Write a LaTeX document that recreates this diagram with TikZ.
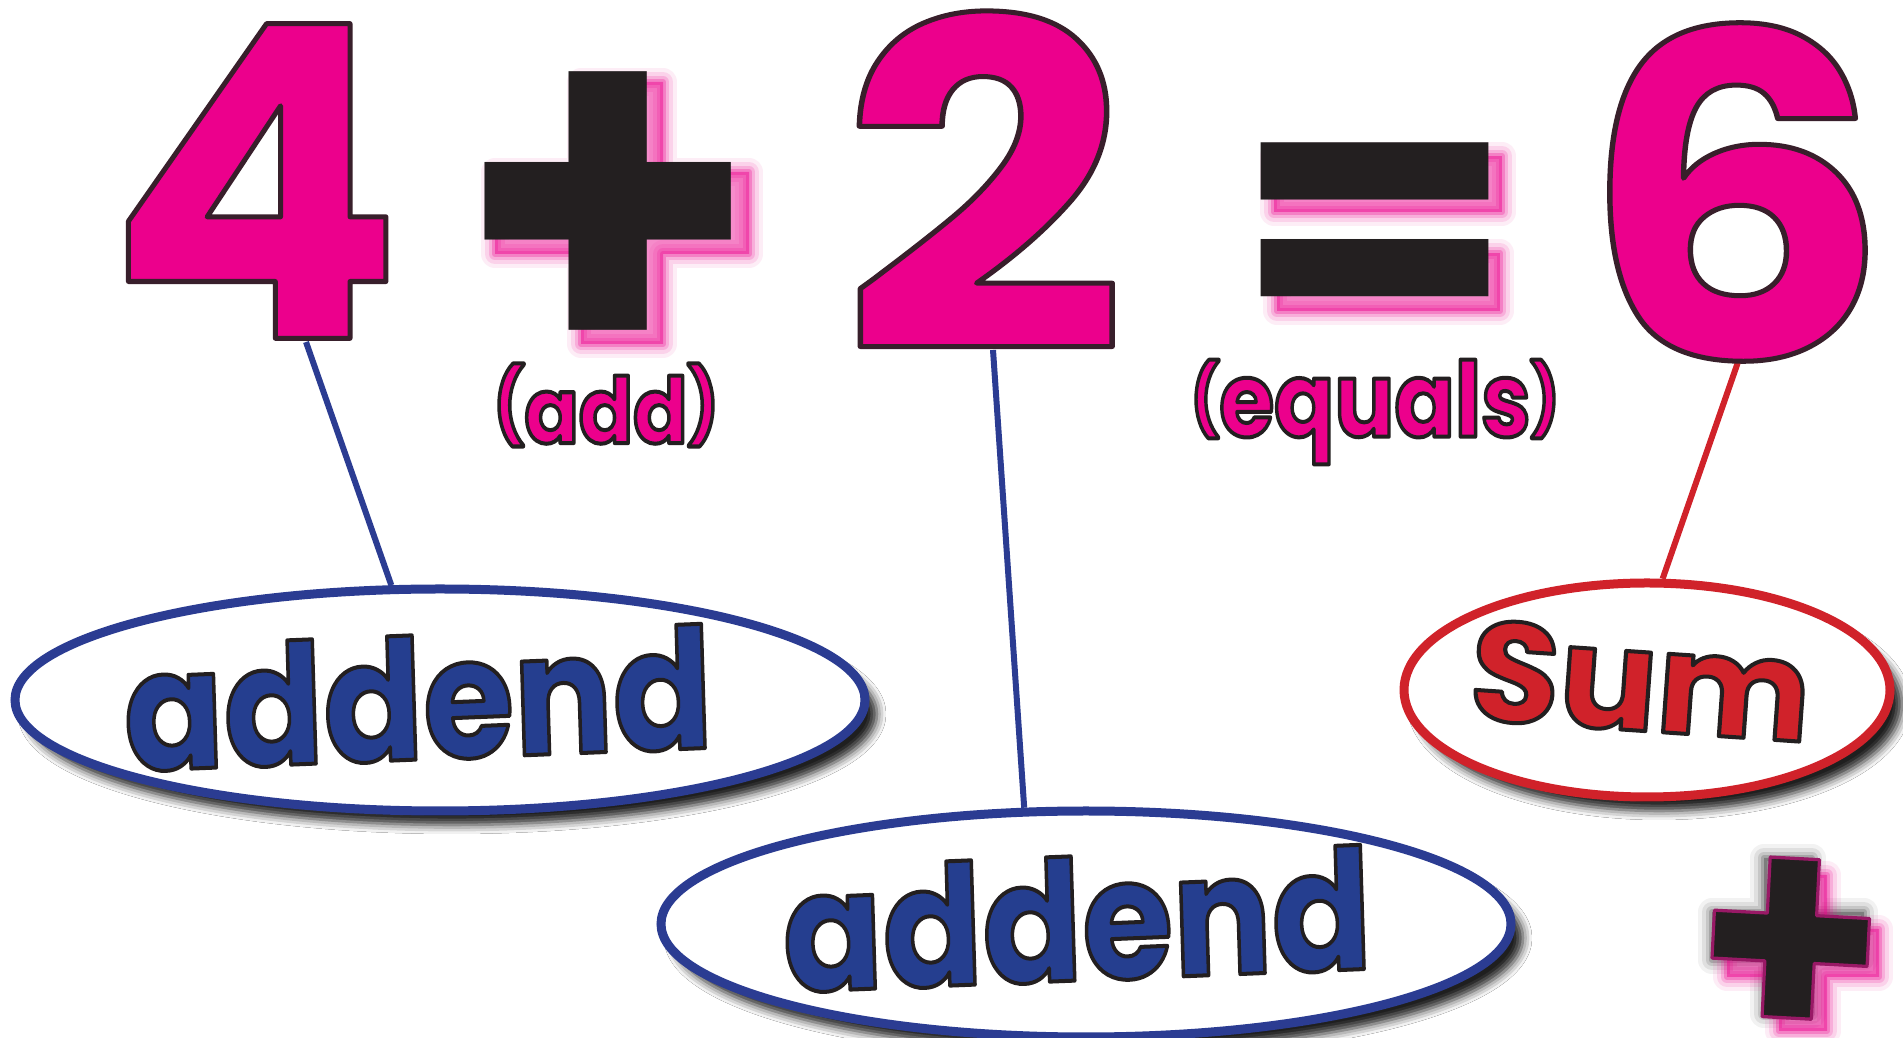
\documentclass[tikz,border=0pt]{standalone}
\usepackage{fontspec}
\setmainfont{Poppins}
\usetikzlibrary{shapes.geometric,shadows.blur}
\definecolor{pinkc}{HTML}{EC008C}
\definecolor{blk}{HTML}{231F20}
\definecolor{bluec}{HTML}{253E8F}
\definecolor{bluel}{HTML}{2B3C92}
\definecolor{redc}{HTML}{D0222A}
\makeatletter
\newcommand\outl[2]{\pgfsys@invoke{2 Tr #1 w #2 RG 1 j}}
\newcommand\outoff{\pgfsys@invoke{0 Tr}}
\makeatother
\newcommand\blkrgb{0.137 0.122 0.125}
\newcommand\digrgb{0.22 0.12 0.17}
\newcommand\myparl[2]{{\fontsize{#1}{#1}\selectfont\raisebox{#2}{(}}}
\newcommand\myparr[2]{{\fontsize{#1}{#1}\selectfont\raisebox{#2}{)}}}
% plus-shaped outline: centre x, centre y, half width, half height, half arm
\newcommand\pluspath[5]{(#1-#5,#2+#4) -- (#1+#5,#2+#4) -- (#1+#5,#2+#5) -- (#1+#3,#2+#5)
  -- (#1+#3,#2-#5) -- (#1+#5,#2-#5) -- (#1+#5,#2-#4) -- (#1-#5,#2-#4) -- (#1-#5,#2-#5)
  -- (#1-#3,#2-#5) -- (#1-#3,#2+#5) -- (#1-#5,#2+#5) -- cycle}
\pgfdeclarelayer{bg}
\pgfsetlayers{bg,main}
\tikzset{
  bubble/.style={ellipse, draw=#1, line width=9pt, fill=white, inner sep=0pt,
    blur shadow={shadow xshift=12pt, shadow yshift=-14pt, shadow blur radius=9pt, shadow opacity=88}},
  conn/.style={draw=#1, line width=6pt},
  lbl/.style={inner sep=0pt, outer sep=0pt, font=\bfseries\fontsize{#1}{#1}\selectfont},
  glowfill/.style={fill=#1, opacity=0.45},
  glowline/.style={draw=#1, line join=round},
}
\newcommand\glowit[2]{% #1 colour, #2 path
  \fill[glowfill=#1] #2;
  \foreach \w/\o in {28/0.07, 20/0.11, 12/0.17, 6/0.26}{\draw[glowline=#1, line width=\w pt, opacity=\o] #2;}}
\begin{document}
\begin{tikzpicture}[x=1pt,y=1pt]
\useasboundingbox (0,0) rectangle (1903,1038);

% big digits
\node[lbl=437, text=pinkc] (four) at (255,857) {\outl{5}{\digrgb}4\outoff};
\node[lbl=456, text=pinkc, xscale=1.1] (two) at (984,857) {\outl{5}{\digrgb}2\outoff};
\node[lbl=452, text=pinkc, xscale=1.08] (six) at (1735,846) {\outl{5}{\digrgb}6\outoff};

% plus and equals with pink glow
\begin{scope}[shift={(12,-14)}]
  \glowit{pinkc}{\pluspath{610}{839}{127}{131}{41}}
  \glowit{pinkc}{(1262,896) rectangle (1490,840)}
  \glowit{pinkc}{(1265,799) rectangle (1488,741)}
\end{scope}
\node[lbl=483, text=blk, yscale=1.05] (plus) at (608,813) {+};
\node[lbl=391, text=blk, xscale=1.04, yscale=0.97] (eq) at (1375,790) {=};

% word labels
\node[lbl=91, text=pinkc, xscale=0.88] (add) at (606,633) {\outl{4}{\blkrgb}\myparl{74}{12pt}add\myparr{74}{12pt}\outoff};
\node[lbl=104, text=pinkc, xscale=0.855] (equals) at (1375,626) {\outl{4}{\blkrgb}\myparl{70}{13pt}equals\myparr{70}{13pt}\outoff};

% ellipses
\node[bubble=bluel, minimum width=850pt, minimum height=222pt] (e1) at (440,338) {};
\node[bubble=bluel, minimum width=850pt, minimum height=226pt] (e2) at (1086,114) {};
\node[bubble=redc, minimum width=486pt, minimum height=214pt] (e3) at (1647,348) {};

\node[lbl=168, text=bluec, xscale=0.875, rotate=2] (t1) at (418,340) {\outl{4}{\blkrgb}addend\outoff};
\node[lbl=168, text=bluec, xscale=0.875, rotate=2] (t2) at (1077,119) {\outl{4}{\blkrgb}addend\outoff};
\node[lbl=141, text=redc, xscale=1.03, rotate=-4] (t3) at (1641,357) {\outl{4}{\blkrgb}Sum\outoff};

% small plus with dark and pink glow
\begin{scope}[shift={(-6,6)}]
  \glowit{black!70}{\pluspath{1794}{96}{76}{78}{24}}
\end{scope}
\begin{scope}[shift={(9,-11)}]
  \glowit{pinkc}{\pluspath{1794}{96}{76}{78}{24}}
\end{scope}
\node[lbl=290, text=blk, xscale=1.05, yscale=1.08, rotate=-3] (splus) at (1790,85) {\outl{3}{0.6 0.1 0.4}+\outoff};

% connector ends
\coordinate (c4) at (306,696);
\coordinate (c2) at (993,688);
\coordinate (c6) at (1738,676);
\begin{pgfonlayer}{bg}
\fill[white] (0,0) rectangle (1903,1038);
\draw[conn=bluel] (c4) -- (e1.113);
\draw[conn=bluel] (c2) -- (e2.118);
\draw[conn=redc] (c6) -- (e3.82);
\end{pgfonlayer}
\end{tikzpicture}
\end{document}
